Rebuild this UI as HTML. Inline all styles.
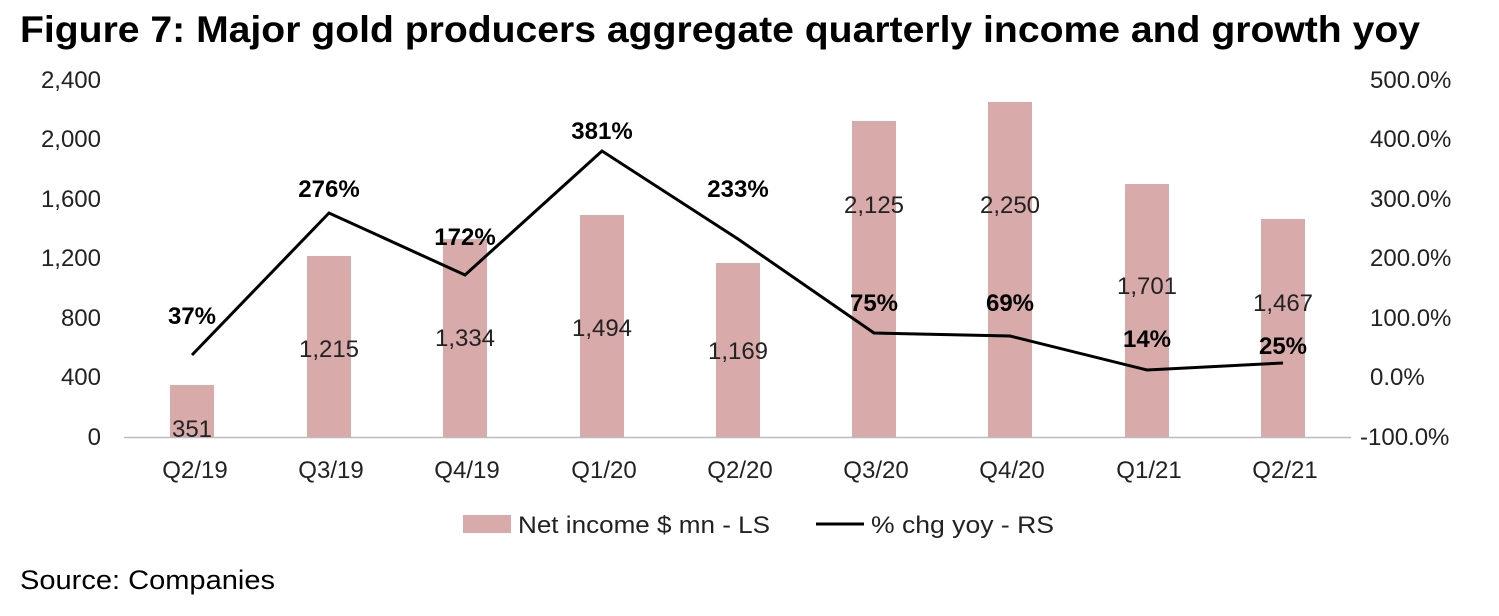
<!DOCTYPE html>
<html><head><meta charset="utf-8"><style>
body{margin:0;background:#fff;width:1499px;height:616px;overflow:hidden}
svg{display:block}
text{font-family:"Liberation Sans",Arial,sans-serif}
</style></head><body>
<svg width="1499" height="616" viewBox="0 0 1499 616">
<text x="20" y="42" font-size="37" font-weight="bold" fill="#000" textLength="1400" lengthAdjust="spacingAndGlyphs">Figure 7: Major gold producers aggregate quarterly income and growth yoy</text>
<g font-size="24" fill="#222" text-anchor="end">
<text x="101" y="88">2,400</text><text x="101" y="147">2,000</text><text x="101" y="207">1,600</text><text x="101" y="266">1,200</text><text x="101" y="326">800</text><text x="101" y="385">400</text><text x="101" y="445">0</text>
</g>
<g font-size="24" fill="#222" text-anchor="start">
<text x="1370" y="88">500.0%</text><text x="1370" y="147">400.0%</text><text x="1370" y="207">300.0%</text><text x="1370" y="266">200.0%</text><text x="1370" y="326">100.0%</text><text x="1370" y="385">0.0%</text><text x="1360" y="445">-100.0%</text>
</g>
<g fill="#d8abaa">
<rect x="170" y="385" width="44" height="52"/>
<rect x="307" y="256" width="44" height="181"/>
<rect x="443" y="239" width="44" height="198"/>
<rect x="580" y="215" width="44" height="222"/>
<rect x="716" y="263" width="44" height="174"/>
<rect x="852" y="121" width="44" height="316"/>
<rect x="988" y="102" width="44" height="335"/>
<rect x="1125" y="184" width="44" height="253"/>
<rect x="1261" y="219" width="44" height="218"/>
</g>
<line x1="124" y1="437.5" x2="1351" y2="437.5" stroke="#bbb" stroke-width="1.5"/>
<polyline fill="none" stroke="#000" stroke-width="3" points="192,355 329,213 465,275 602,151 738,239 874,333 1010,336 1147,370 1283,363"/>
<g font-size="24" fill="#222" text-anchor="middle">
<text x="192" y="437">351</text><text x="329" y="357">1,215</text><text x="465" y="346">1,334</text><text x="602" y="336">1,494</text><text x="738" y="359">1,169</text><text x="874" y="213">2,125</text><text x="1010" y="213">2,250</text><text x="1147" y="294">1,701</text><text x="1283" y="311">1,467</text>
</g>
<g font-size="24" font-weight="bold" fill="#000" text-anchor="middle">
<text x="192" y="324">37%</text><text x="329" y="197">276%</text><text x="465" y="245">172%</text><text x="602" y="139">381%</text><text x="738" y="197">233%</text><text x="874" y="311">75%</text><text x="1010" y="311">69%</text><text x="1147" y="347">14%</text><text x="1283" y="354">25%</text>
</g>
<g font-size="24" fill="#222" text-anchor="middle">
<text x="195" y="478">Q2/19</text><text x="331" y="478">Q3/19</text><text x="467" y="478">Q4/19</text><text x="604" y="478">Q1/20</text><text x="740" y="478">Q2/20</text><text x="876" y="478">Q3/20</text><text x="1012" y="478">Q4/20</text><text x="1149" y="478">Q1/21</text><text x="1285" y="478">Q2/21</text>
</g>
<rect x="463" y="515" width="48" height="18" fill="#d8abaa"/>
<text x="518" y="533" font-size="24" fill="#222" textLength="252" lengthAdjust="spacingAndGlyphs">Net income $ mn - LS</text>
<line x1="816" y1="524" x2="864" y2="524" stroke="#000" stroke-width="3"/>
<text x="871" y="533" font-size="24" fill="#222" textLength="183" lengthAdjust="spacingAndGlyphs">% chg yoy - RS</text>
<text x="20" y="589" font-size="27" fill="#000" textLength="255" lengthAdjust="spacingAndGlyphs">Source: Companies</text>
</svg>
</body></html>
